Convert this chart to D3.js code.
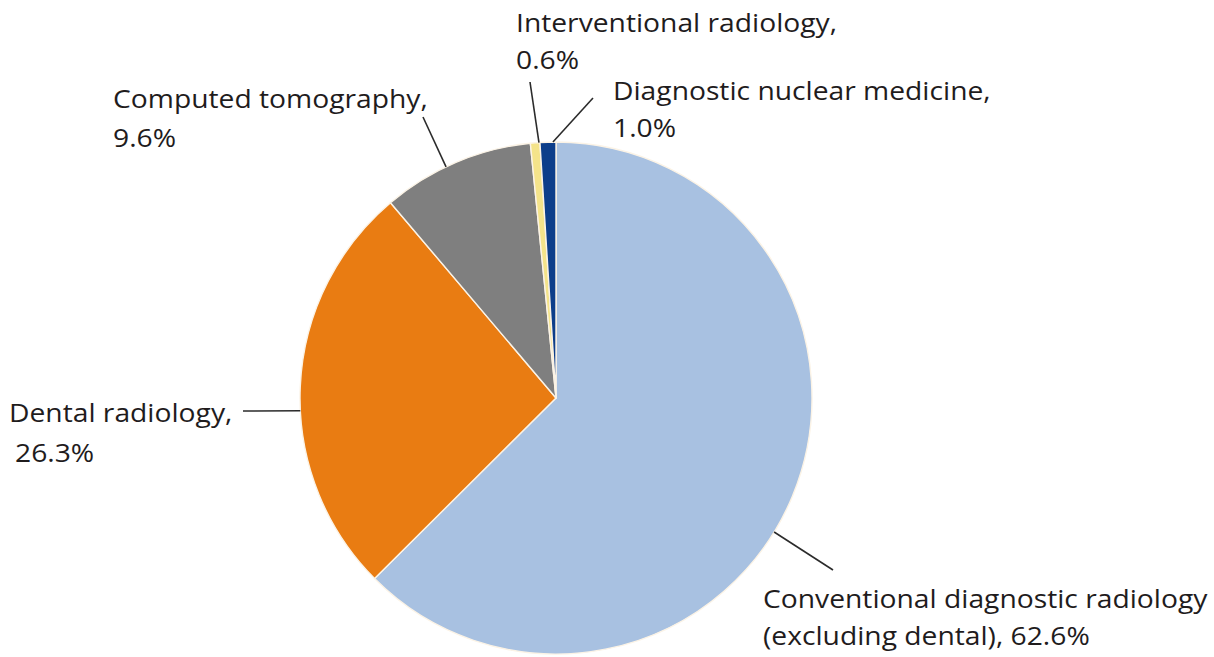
<!DOCTYPE html>
<html>
<head>
<meta charset="utf-8">
<script src="https://cdn.jsdelivr.net/npm/d3@7"></script>
<style>
  html, body { margin: 0; padding: 0; background: #ffffff; }
  svg { display: block; }
  text { font-family: "Open Sans", "Noto Sans", sans-serif; fill: #1f1c1d; }
</style>
</head>
<body>
<svg id="chart" width="1214" height="657"></svg>
<script>
// Share of collective dose by imaging modality (%)
const categories = [
  "Conventional diagnostic radiology (excluding dental)",
  "Dental radiology",
  "Computed tomography",
  "Interventional radiology",
  "Diagnostic nuclear medicine"
];
const shares = [62.6, 26.3, 9.6, 0.6, 1.0];
const valueLabels = ["62.6%", "26.3%", "9.6%", "0.6%", "1.0%"];
const sliceColors = ["#a8c1e1", "#e97c12", "#7f7f7f", "#f4e38a", "#0d3e8a"];

// Label text lines per slice
const labelLines = [
  ["Conventional diagnostic radiology", "(excluding dental), " + valueLabels[0]],
  ["Dental radiology,", valueLabels[1]],
  ["Computed tomography,", valueLabels[2]],
  ["Interventional radiology,", valueLabels[3]],
  ["Diagnostic nuclear medicine,", valueLabels[4]]
];

// Label placement: text origin, line offsets, leader outer end, and where along the slice the leader meets the rim
const labelLayout = [
  { x: 763, y: 608, dx2: 0, lineGap: 37, end: [833, 570], rim: 0.54 },
  { x: 9,   y: 422, dx2: 6, lineGap: 40, end: [243, 411], rim: 0.444 },
  { x: 113, y: 108, dx2: 0, lineGap: 39, end: [423, 117], rim: 0.43 },
  { x: 516, y: 32,  dx2: 0, lineGap: 37, end: [530, 82],  rim: 0.9 },
  { x: 613, y: 100, dx2: 0, lineGap: 37, end: [593, 98],  rim: 0.81 }
];

const cx = 556, cy = 398, radius = 256;
const fontSize = 25, textStretch = 1.13;
const svg = d3.select("#chart");

const data = categories.map((c, i) => ({ name: c, value: shares[i], color: sliceColors[i], i }));

const pie = d3.pie()
  .value(d => d.value)
  .sort(null)
  .startAngle(0)
  .endAngle(2 * Math.PI);

const arcs = pie(data);
const arc = d3.arc().innerRadius(0).outerRadius(radius);

const g = svg.append("g").attr("transform", `translate(${cx},${cy})`);

g.selectAll("path.slice")
  .data(arcs)
  .join("path")
  .attr("class", "slice")
  .attr("d", arc)
  .attr("fill", d => d.data.color)
  .attr("stroke", "#fbf3e6")
  .attr("stroke-width", 1.4)
  .attr("stroke-linejoin", "round");

// Leader lines from the rim to each label
const leaders = svg.append("g");
arcs.forEach((a, k) => {
  const lay = labelLayout[k];
  const ang = a.startAngle + (a.endAngle - a.startAngle) * lay.rim;
  const p = d3.pointRadial(ang, radius);
  leaders.append("line")
    .attr("x1", cx + p[0])
    .attr("y1", cy + p[1])
    .attr("x2", lay.end[0])
    .attr("y2", lay.end[1])
    .attr("stroke", "#2b2b2b")
    .attr("stroke-width", 1.6);
});

// Labels
const labels = svg.append("g");
labelLines.forEach((lines, k) => {
  const lay = labelLayout[k];
  const t = labels.append("text")
    .attr("font-size", fontSize)
    .attr("font-weight", 500)
    .attr("transform", `translate(${lay.x},${lay.y}) scale(${textStretch},1)`);
  lines.forEach((ln, j) => {
    t.append("tspan")
      .attr("x", j > 0 ? lay.dx2 / textStretch : 0)
      .attr("y", j * lay.lineGap)
      .text(ln);
  });
});
</script>
</body>
</html>
